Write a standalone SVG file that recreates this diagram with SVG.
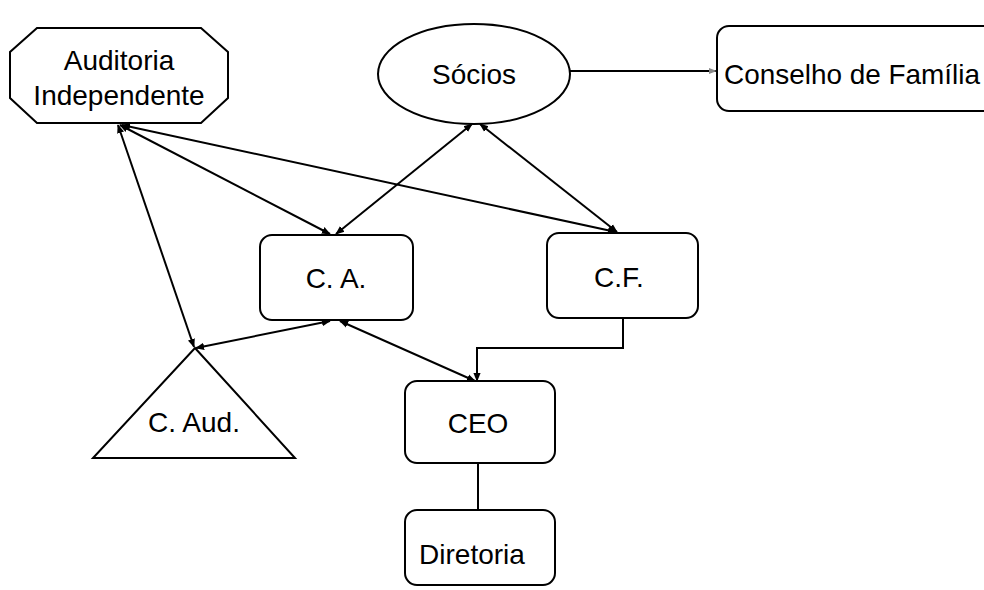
<svg xmlns="http://www.w3.org/2000/svg" width="984" height="590" viewBox="0 0 984 590">
<defs>
<style>
.n{fill:#fff;stroke:#000;stroke-width:2}
.t{font-family:"Liberation Sans",Arial,sans-serif;font-size:28px;fill:#000;text-anchor:middle}
.c{fill:none;stroke:#000;stroke-width:2}
</style>
<marker id="a" viewBox="0 0 10 10" refX="9" refY="5" markerWidth="9" markerHeight="9" markerUnits="userSpaceOnUse" orient="auto-start-reverse">
<path d="M0,1 L10,5 L0,9 Z" fill="#000"/>
</marker>
<marker id="g" viewBox="0 0 10 10" refX="9" refY="5" markerWidth="8" markerHeight="8" markerUnits="userSpaceOnUse" orient="auto">
<path d="M0,1 L10,5 L0,9 Z" fill="#888"/>
</marker>
</defs>
<rect width="984" height="590" fill="#fff"/>
<g id="connectors">
<line class="c" x1="118" y1="125" x2="194" y2="347" marker-start="url(#a)" marker-end="url(#a)"/>
<line class="c" x1="120" y1="125" x2="330" y2="234" marker-start="url(#a)" marker-end="url(#a)"/>
<line class="c" x1="122" y1="125" x2="616" y2="232" marker-start="url(#a)" marker-end="url(#a)"/>
<line class="c" x1="472" y1="124" x2="336" y2="234" marker-start="url(#a)" marker-end="url(#a)"/>
<line class="c" x1="480" y1="124" x2="617" y2="232" marker-start="url(#a)" marker-end="url(#a)"/>
<line class="c" x1="196" y1="348" x2="330" y2="321" marker-start="url(#a)" marker-end="url(#a)"/>
<line class="c" x1="340" y1="321" x2="475" y2="381" marker-start="url(#a)" marker-end="url(#a)"/>
<polyline class="c" points="623,318 623,348 477,348 477,381" marker-end="url(#a)"/>
<line class="c" x1="478" y1="463" x2="478" y2="510"/>
<line class="c" x1="570" y1="71" x2="716" y2="71" marker-end="url(#g)"/>
</g>
<g id="auditoria">
<polygon class="n" points="37,28 201,28 228,52 228,98 201,123 37,123 10,98 10,52"/>
<text class="t" x="119" y="70">Auditoria</text>
<text class="t" x="119" y="105">Independente</text>
</g>
<g id="socios">
<ellipse class="n" cx="474" cy="74" rx="96" ry="50"/>
<text class="t" x="474" y="84">Sócios</text>
</g>
<g id="conselho">
<rect class="n" x="717" y="26" width="300" height="85" rx="12"/>
<text class="t" x="724" y="84" style="text-anchor:start" textLength="256" lengthAdjust="spacingAndGlyphs">Conselho de Família</text>
</g>
<g id="ca">
<rect class="n" x="260" y="235" width="153" height="85" rx="12"/>
<text class="t" x="336" y="288">C. A.</text>
</g>
<g id="cf">
<rect class="n" x="547" y="233" width="151" height="85" rx="12"/>
<text class="t" x="619" y="287">C.F.</text>
</g>
<g id="caud">
<polygon class="n" points="195,348 295,458 93,458"/>
<text class="t" x="194" y="432">C. Aud.</text>
</g>
<g id="ceo">
<rect class="n" x="405" y="381" width="150" height="82" rx="12"/>
<text class="t" x="478" y="433">CEO</text>
</g>
<g id="diretoria">
<rect class="n" x="405" y="510" width="150" height="75" rx="12"/>
<text class="t" x="472" y="564">Diretoria</text>
</g>
</svg>
